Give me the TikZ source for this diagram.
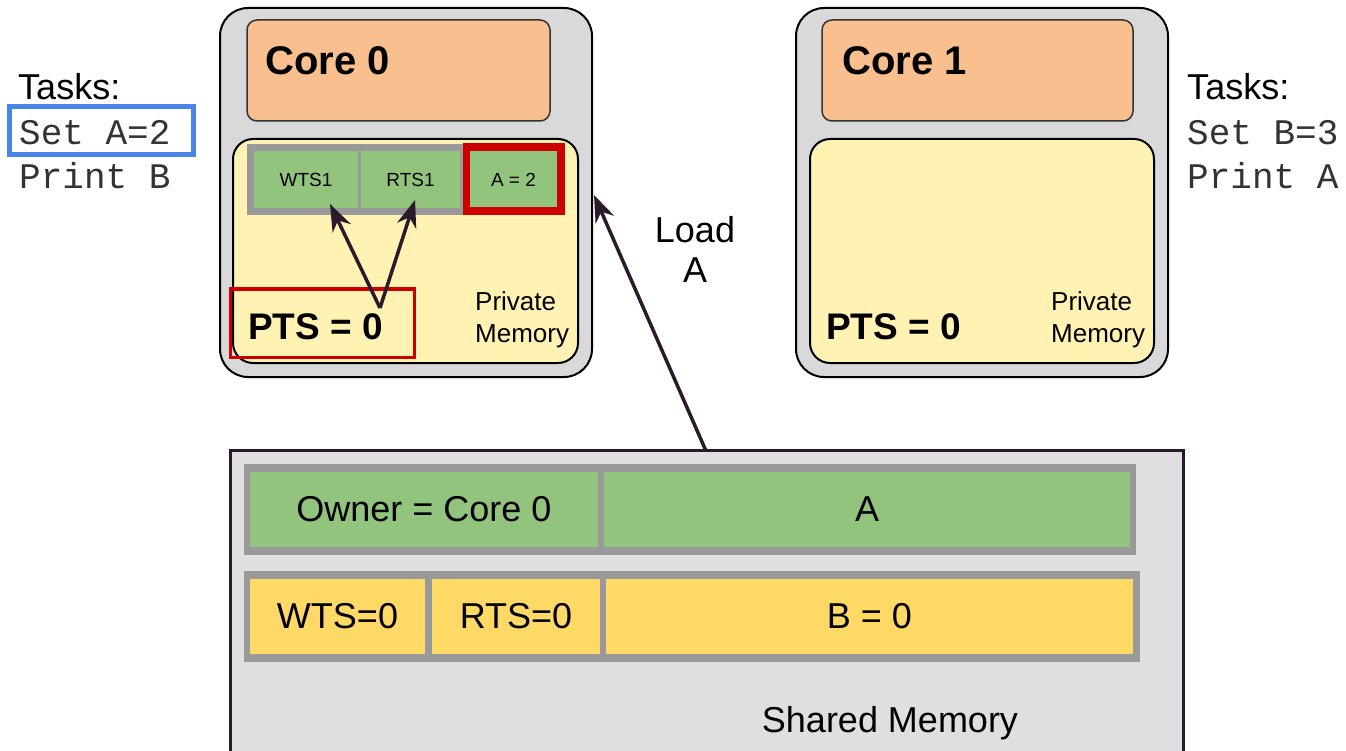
\documentclass[tikz,border=0pt]{standalone}
\usepackage{fontspec}
\setmainfont{Liberation Sans}
\setmonofont{Liberation Mono}
\usetikzlibrary{arrows.meta}

\definecolor{coregray}{HTML}{D9D9D9}
\definecolor{coreorange}{HTML}{F9BF8F}
\definecolor{privyellow}{HTML}{FFF2B3}
\definecolor{cellgreen}{HTML}{93C47D}
\definecolor{framegray}{HTML}{999999}
\definecolor{markred}{HTML}{CC0000}
\definecolor{taskblue}{HTML}{4A86E8}
\definecolor{cellyellow}{HTML}{FFD966}
\definecolor{sharedgray}{HTML}{DFDFDF}
\definecolor{arrowdark}{HTML}{2B1A2C}
\definecolor{codegray}{HTML}{333333}

\newcommand{\fs}[1]{\fontsize{#1}{#1}\selectfont}

\tikzset{
  box/.style={rectangle, inner sep=0pt, outer sep=0pt},
  coreouter/.style={box, draw=black, line width=2pt, fill=coregray, rounded corners=28pt},
  corehead/.style={box, draw=black!80, line width=1.5pt, fill=coreorange, rounded corners=10pt},
  privmem/.style={box, draw=black, line width=2pt, fill=privyellow, rounded corners=20pt},
  frame/.style={box, fill=framegray},
  gcell/.style={box, fill=cellgreen},
  ycell/.style={box, fill=cellyellow},
  redmark/.style={box, fill=markred},
  celltext/.style={font=\fs{19}},
  bigtext/.style={font=\fs{36}, inner sep=0pt, anchor=center},
  titletext/.style={font=\bfseries\fs{40}, inner sep=0pt, anchor=base west},
  ptstext/.style={font=\bfseries\fs{37}, inner sep=0pt, anchor=base west},
  privtext/.style={font=\fs{26}, inner sep=0pt, align=left, anchor=north west},
  tasktitle/.style={font=\fs{36}, inner sep=0pt, anchor=base west},
  code/.style={font=\ttfamily\fs{36}, text=codegray, inner sep=0pt, anchor=base west},
  link/.style={draw=arrowdark, line width=3.5pt, -{Stealth[length=27pt,width=20pt]}},
}

\begin{document}
\begin{tikzpicture}[x=1pt, y=-1pt]
\useasboundingbox (0,0) rectangle (1346,751);

% ---------------- Core 0 ----------------
\node[coreouter, minimum width=372pt, minimum height=369pt] (core0) at (406,192.5) {};
\node[corehead, minimum width=303pt, minimum height=101pt] (head0) at (398.5,70.5) {};
\node[titletext] (title0) at (265,75) {Core 0};
\node[privmem, minimum width=345pt, minimum height=224pt] (priv0) at (405.5,251) {};
\node[frame, minimum width=318pt, minimum height=71pt] (row0) at (406,179.5) {};
\node[gcell, celltext, minimum width=104pt, minimum height=57pt] (wts1) at (306,179.5) {WTS1};
\node[gcell, celltext, minimum width=99pt, minimum height=57pt] (rts1) at (410.5,179.5) {RTS1};
\node[redmark, minimum width=102pt, minimum height=72pt] (amark) at (513.5,179.5) {};
\node[gcell, celltext, minimum width=87pt, minimum height=56pt] (aval) at (513.5,179.5) {A = 2};
\node[box, draw=markred, line width=3pt, minimum width=184pt, minimum height=68pt] (ptsbox) at (322,323) {};
\node[ptstext] (pts0) at (248,339) {PTS = 0};
\node[privtext] (pm0) at (475,291) {Private\\[6pt]Memory};
\coordinate (ptsfoot) at (380,308);

\draw[link] (ptsfoot) -- (330,204);
\draw[link] (ptsfoot) -- (415,200);

% ---------------- Core 1 ----------------
\node[coreouter, minimum width=372pt, minimum height=369pt] (core1) at (982,192.5) {};
\node[corehead, minimum width=311pt, minimum height=101pt] (head1) at (977.5,70.5) {};
\node[titletext] (title1) at (842,75) {Core 1};
\node[privmem, minimum width=344pt, minimum height=224pt] (priv1) at (982,251) {};
\node[ptstext] (pts1) at (826,339) {PTS = 0};
\node[privtext] (pm1) at (1051,291) {Private\\[6pt]Memory};

% ---------------- Task lists ----------------
\node[tasktitle] (tasks0) at (18,100) {Tasks:};
\node[box, draw=taskblue, line width=5pt, minimum width=184pt, minimum height=48pt] (cur0) at (101.5,130.5) {};
\node[code] (set0) at (19,145) {Set A=2};
\node[code] (print0) at (19,189) {Print B};

\node[tasktitle] (tasks1) at (1187,100) {Tasks:};
\node[code] (set1) at (1187,145) {Set B=3};
\node[code] (print1) at (1187,189) {Print A};

% ---------------- Shared memory ----------------
\node[box, draw=arrowdark, line width=3pt, fill=sharedgray, minimum width=953pt, minimum height=330pt] (shared) at (706.5,615) {};
\node[frame, minimum width=892pt, minimum height=91pt] (srow1) at (690,509.5) {};
\node[gcell, bigtext, minimum width=348pt, minimum height=75pt] (owner) at (424,509.5) {Owner = Core 0};
\node[gcell, bigtext, minimum width=526pt, minimum height=75pt] (sa) at (867,509.5) {A};
\node[frame, minimum width=896pt, minimum height=91pt] (srow2) at (692,616.5) {};
\node[ycell, bigtext, minimum width=175pt, minimum height=75pt] (swts) at (337.5,616.5) {WTS=0};
\node[ycell, bigtext, minimum width=168pt, minimum height=75pt] (srts) at (516,616.5) {RTS=0};
\node[ycell, bigtext, minimum width=527pt, minimum height=75pt] (sb) at (869.5,616.5) {B = 0};
\node[bigtext] (sharedlabel) at (890,723) {Shared Memory};

% ---------------- Load A ----------------
\coordinate (loadfoot) at (706,451);
\draw[link] (loadfoot) -- (594,195);
\node[bigtext, align=center] (loadlabel) at (695,249) {Load\\[4pt]A};

\end{tikzpicture}
\end{document}
